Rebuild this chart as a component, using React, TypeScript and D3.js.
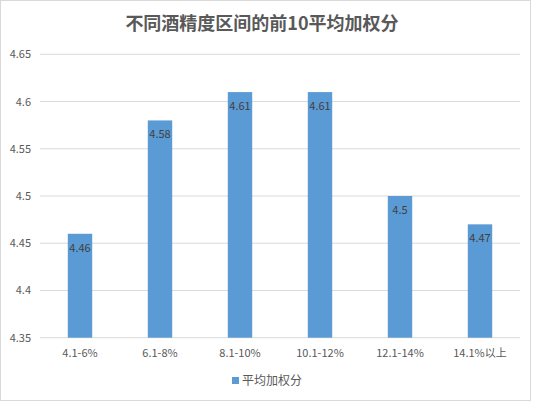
import React from "react";
import * as d3 from "d3";

const categories = ["4.1-6%", "6.1-8%", "8.1-10%", "10.1-12%", "12.1-14%", "14.1%以上"];
const values = [4.46, 4.58, 4.61, 4.61, 4.5, 4.47];
const yTicks = [4.35, 4.4, 4.45, 4.5, 4.55, 4.6, 4.65];
const title = "不同酒精度区间的前10平均加权分";
const seriesName = "平均加权分";

const W = 535;
const H = 401;
const m = { left: 40, right: 15, top: 54.3, bottom: 63.3 };
const font = "'Noto Sans CJK SC', 'Noto Sans', sans-serif";

export default function App() {
  const x = d3
    .scaleBand<string>()
    .domain(categories)
    .range([m.left, W - m.right])
    .paddingInner(0.695)
    .paddingOuter(0.3475);
  const y = d3.scaleLinear().domain([4.35, 4.65]).range([H - m.bottom, m.top]);
  const fmt = (v: number) => String(+v.toFixed(2));

  return (
    <svg
      width={W}
      height={H}
      style={{ position: "absolute", left: 0, top: 0, background: "#fff" }}
      fontFamily={font}
    >
      <rect x={0.5} y={0.5} width={530} height={H - 1} fill="#fff" stroke="#d9d9d9" />
      <text x={262} y={30} textAnchor="middle" fontSize={18} fontWeight="bold" fill="#595959">
        {title}
      </text>
      {yTicks.map((t) => (
        <g key={t}>
          <line x1={m.left} x2={W - m.right} y1={y(t)} y2={y(t)} stroke="#d9d9d9" strokeWidth={1} />
          <text x={31} y={y(t) + 4} textAnchor="end" fontSize={11} fill="#595959">
            {fmt(t)}
          </text>
        </g>
      ))}
      {categories.map((c, i) => (
        <g key={c}>
          <rect
            x={x(c)!}
            y={y(values[i])}
            width={x.bandwidth()}
            height={y(4.35) - y(values[i])}
            fill="#5b9bd5"
          />
          <text
            x={x(c)! + x.bandwidth() / 2}
            y={y(values[i]) + 18}
            textAnchor="middle"
            fontSize={11}
            fill="#404040"
          >
            {fmt(values[i])}
          </text>
          <text
            x={x(c)! + x.bandwidth() / 2}
            y={357}
            textAnchor="middle"
            fontSize={11}
            fill="#595959"
          >
            {c}
          </text>
        </g>
      ))}
      <rect x={232} y={377} width={7} height={7} fill="#5b9bd5" />
      <text x={242} y={385} fontSize={12} fill="#595959">
        {seriesName}
      </text>
    </svg>
  );
}
